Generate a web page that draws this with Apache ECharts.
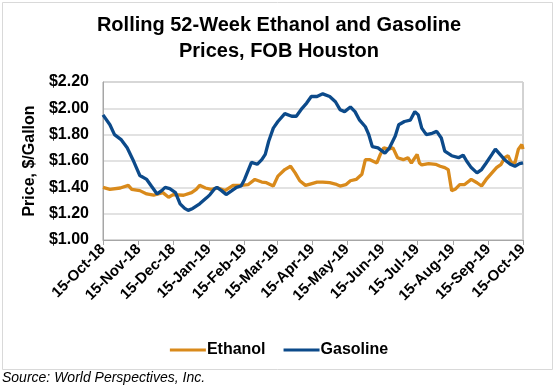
<!DOCTYPE html>
<html>
<head>
<meta charset="utf-8">
<script src="https://cdn.jsdelivr.net/npm/echarts@6/dist/echarts.min.js"></script>
<style>html,body{margin:0;padding:0;background:#fff;}#c{width:558px;height:391px;}</style>
</head>
<body>
<div id="c"></div>
<script>
// Tick labels (15th of each month)
const tickLabels = ['15-Oct-18','15-Nov-18','15-Dec-18','15-Jan-19','15-Feb-19','15-Mar-19','15-Apr-19','15-May-19','15-Jun-19','15-Jul-19','15-Aug-19','15-Sep-19','15-Oct-19'];
const tickDates = ['2018-10-15','2018-11-15','2018-12-15','2019-01-15','2019-02-15','2019-03-15','2019-04-15','2019-05-15','2019-06-15','2019-07-15','2019-08-15','2019-09-15','2019-10-15'];

// Ethanol: days since 15-Oct-18 and price ($/gal)
const ethDays = [0,6,15,22,25,32,38,44,48,52,57,61,70,77,81,84,89,94,100,106,113,120,126,132,138,142,148,152,158,163,167,171,176,180,186,191,197,202,206,211,215,220,225,228,232,238,241,244,248,252,256,261,265,268,273,275,277,283,289,293,297,300,303,306,310,314,320,325,329,333,338,342,346,349,352,355,358,361,364,365];
const ethVals = [1.40,1.385,1.395,1.415,1.385,1.375,1.35,1.34,1.35,1.36,1.325,1.345,1.34,1.36,1.385,1.415,1.395,1.385,1.395,1.375,1.415,1.415,1.42,1.46,1.44,1.435,1.41,1.485,1.535,1.56,1.51,1.45,1.415,1.425,1.44,1.44,1.435,1.425,1.41,1.42,1.45,1.46,1.50,1.61,1.61,1.585,1.65,1.70,1.69,1.70,1.625,1.61,1.625,1.585,1.65,1.585,1.57,1.58,1.575,1.56,1.55,1.535,1.375,1.385,1.42,1.42,1.46,1.435,1.41,1.46,1.51,1.55,1.575,1.625,1.64,1.585,1.585,1.69,1.725,1.69];

// Gasoline: days since 15-Oct-18 and price ($/gal)
const gasDays = [0,6,10,16,21,26,29,32,38,42,47,51,54,58,63,67,71,74,78,84,90,93,97,99,103,107,112,116,120,123,126,129,134,138,141,144,148,152,158,164,168,173,177,181,186,191,197,202,206,210,215,219,223,228,231,234,239,245,249,254,257,262,267,271,274,277,281,286,290,294,297,303,309,313,316,320,325,329,333,338,341,345,349,354,358,362,365];
const gasVals = [1.95,1.875,1.80,1.76,1.70,1.61,1.55,1.49,1.46,1.41,1.35,1.375,1.40,1.39,1.36,1.275,1.24,1.225,1.24,1.275,1.32,1.345,1.39,1.40,1.375,1.345,1.375,1.40,1.41,1.46,1.525,1.59,1.575,1.61,1.65,1.75,1.85,1.90,1.96,1.94,1.94,2.00,2.04,2.09,2.09,2.11,2.09,2.05,1.99,1.975,2.01,1.975,1.91,1.86,1.80,1.71,1.70,1.66,1.70,1.79,1.875,1.90,1.91,1.975,1.95,1.85,1.80,1.81,1.825,1.775,1.675,1.64,1.625,1.645,1.60,1.55,1.51,1.535,1.585,1.65,1.69,1.65,1.61,1.575,1.56,1.58,1.585];

const seriesNames = ['Ethanol','Gasoline'];

const t0 = Date.UTC(2018, 9, 15);
const dayOf = s => { const p = s.split('-').map(Number); return Math.round((Date.UTC(p[0], p[1]-1, p[2]) - t0) / 86400000); };
const tickDays = tickDates.map(dayOf);

const FONT = "'Liberation Sans', Arial, sans-serif";
const chart = echarts.init(document.getElementById('c'), null, {renderer: 'canvas'});
chart.setOption({
  animation: false,
  backgroundColor: '#ffffff',
  title: {
    text: 'Rolling 52-Week Ethanol and Gasoline\nPrices, FOB Houston',
    left: 'center', top: 7,
    textStyle: {fontFamily: FONT, fontSize: 20, fontWeight: 'bold', color: '#000', lineHeight: 26}
  },
  legend: {
    data: seriesNames,
    left: 'center', top: 337,
    icon: 'rect', itemWidth: 36, itemHeight: 3, itemGap: 18,
    textStyle: {fontFamily: FONT, fontSize: 16, fontWeight: 'bold', color: '#000', padding: [0,0,0,-4]}
  },
  grid: {left: 103, right: 35, top: 82, bottom: 151, show: true, borderColor: '#a6a6a6', borderWidth: 1, outerBoundsMode: 'none'},
  xAxis: {
    type: 'value', min: 0, max: 365,
    axisLine: {show: true, lineStyle: {color: '#a6a6a6', width: 1}},
    axisTick: {show: true, customValues: tickDays, length: 5, lineStyle: {color: '#a6a6a6'}},
    splitLine: {show: false},
    axisLabel: {
      customValues: tickDays, rotate: 45, margin: 7,
      fontFamily: FONT, fontSize: 15, fontWeight: 'bold', color: '#000',
      formatter: v => { const i = tickDays.indexOf(Math.round(v)); return i >= 0 ? tickLabels[i] : ''; }
    }
  },
  yAxis: {
    type: 'value', min: 1.0, max: 2.2, interval: 0.2,
    name: 'Price, $/Gallon', nameLocation: 'middle', nameGap: 60,
    nameTextStyle: {fontFamily: FONT, fontSize: 16, fontWeight: 'bold', color: '#000'},
    axisLine: {show: true, lineStyle: {color: '#a6a6a6', width: 1}},
    axisTick: {show: false},
    splitLine: {show: true, lineStyle: {color: '#d9d9d9', width: 1.5}},
    axisLabel: {
      margin: 14, fontFamily: FONT, fontSize: 16, fontWeight: 'bold', color: '#000',
      formatter: v => '$' + v.toFixed(2)
    }
  },
  graphic: [
    {type: 'rect', shape: {x: 2.5, y: 2.5, width: 550, height: 367}, style: {fill: 'none', stroke: '#d9d9d9', lineWidth: 1}, z: -1},
    {type: 'text', left: 2, top: 371, style: {text: 'Source: World Perspectives, Inc.', font: "italic 14px 'Liberation Sans', Arial, sans-serif", fill: '#000'}}
  ],
  series: [
    {name: seriesNames[0], type: 'line', showSymbol: false, symbol: 'none', color: '#D98A1B',
     lineStyle: {width: 3.3, color: '#D98A1B'}, data: ethDays.map((d, i) => [d, ethVals[i]])},
    {name: seriesNames[1], type: 'line', showSymbol: false, symbol: 'none', color: '#0C4A8A',
     lineStyle: {width: 3.3, color: '#0C4A8A'}, data: gasDays.map((d, i) => [d, gasVals[i]])}
  ]
});
</script>
</body>
</html>
